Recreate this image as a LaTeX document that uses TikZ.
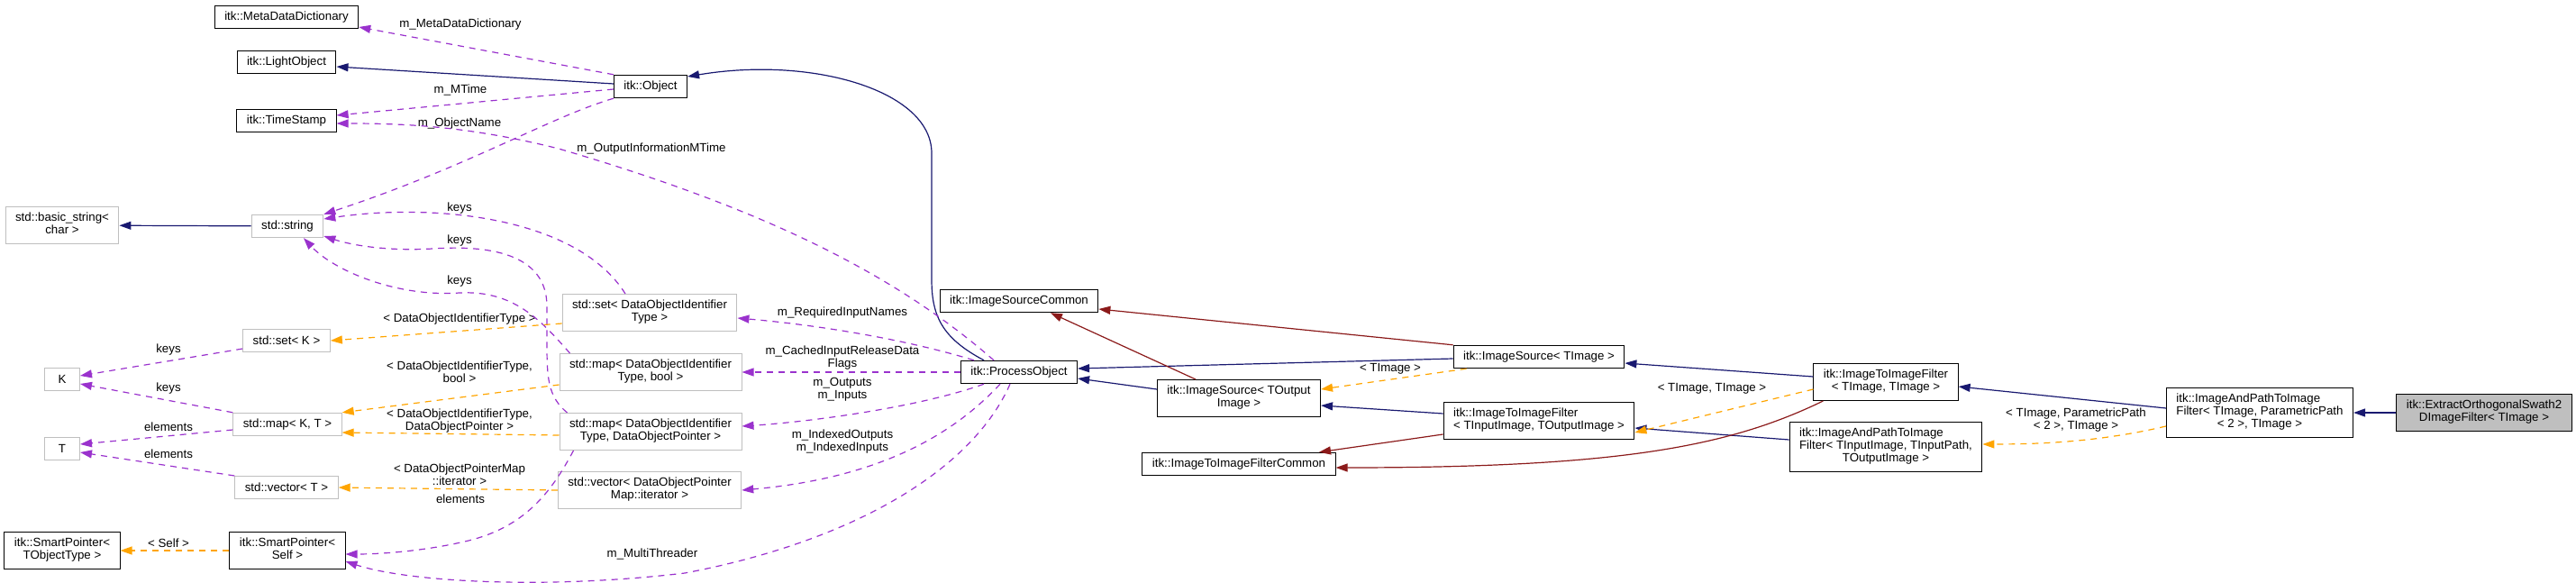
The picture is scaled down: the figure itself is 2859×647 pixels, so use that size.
\documentclass[tikz,border=0pt]{standalone}
\usepackage{fontspec}
\setmainfont{Liberation Sans}
\usepackage{tikz}
\usetikzlibrary{arrows.meta}
\usepackage{xcolor}
\definecolor{dxblue}{HTML}{191970}
\definecolor{dxred}{HTML}{8B1A1A}
\definecolor{dxpurple}{HTML}{9A32CD}
\definecolor{dxorange}{HTML}{FFA500}
\definecolor{dxgray}{HTML}{BFBFBF}
\newcommand{\dlab}[2]{\begin{tabular}{@{}l@{}}#1\\\multicolumn{1}{@{}c@{}}{#2}\end{tabular}}

\begin{document}
\begin{tikzpicture}[x=1pt, y=-1pt,
  cls/.style={draw=black, line width=1pt, font=\fontsize{13.3}{14}\selectfont, inner xsep=11pt, inner ysep=6.5pt, minimum height=25pt},
  ext/.style={cls, draw=dxgray},
  cur/.style={cls, fill=dxgray},
  lbl/.style={font=\fontsize{13.3}{14}\selectfont, align=center, inner sep=0pt},
  tip/.style={-{Triangle[length=13pt,width=9pt]}, line width=1.2pt},
  pub/.style={tip, draw=dxblue},
  priv/.style={tip, draw=dxred},
  use/.style={tip, draw=dxpurple, dash pattern=on 7pt off 6pt},
  tmpl/.style={tip, draw=dxorange, dash pattern=on 7pt off 6pt}
]
  \useasboundingbox (0,0) rectangle (2859,647);

  \node[cls] (mdd) at (318,19) {itk::MetaDataDictionary};
  \node[cls] (lobj) at (318,69) {itk::LightObject};
  \node[cls] (tstamp) at (318,134) {itk::TimeStamp};
  \node[cls] (obj) at (722,96) {itk::Object};
  \node[ext] (bstr) at (69,250) {\dlab{std::basic\_string<}{char >}};
  \node[ext] (str) at (319,251) {std::string};
  \node[ext] (setk) at (318,378) {std::set< K >};
  \node[ext, minimum width=39pt] (nk) at (69,421) {K};
  \node[ext, minimum width=39pt] (nt) at (69,498) {T};
  \node[ext] (mapkt) at (319,471) {std::map< K, T >};
  \node[ext] (vect) at (318,541) {std::vector< T >};
  \node[cls] (spt) at (69,611) {\dlab{itk::SmartPointer<}{TObjectType >}};
  \node[cls] (sps) at (319,611) {\dlab{itk::SmartPointer<}{Self >}};
  \node[ext] (setd) at (721,347) {\dlab{std::set< DataObjectIdentifier}{Type >}};
  \node[ext] (mapb) at (722,413) {\dlab{std::map< DataObjectIdentifier}{Type, bool >}};
  \node[ext] (mapp) at (722,479) {\dlab{std::map< DataObjectIdentifier}{Type, DataObjectPointer >}};
  \node[ext] (vecp) at (721,544) {\dlab{std::vector< DataObjectPointer}{Map::iterator >}};
  \node[cls] (po) at (1131,413) {itk::ProcessObject};
  \node[cls] (isc) at (1131,334) {itk::ImageSourceCommon};
  \node[cls] (isout) at (1375,442) {\dlab{itk::ImageSource< TOutput}{Image >}};
  \node[cls] (itifc) at (1375,515) {itk::ImageToImageFilterCommon};
  \node[cls] (isimg) at (1708,396) {itk::ImageSource< TImage >};
  \node[cls] (itiio) at (1708,467) {\dlab{itk::ImageToImageFilter}{< TInputImage, TOutputImage >}};
  \node[cls] (itiimg) at (2093,424) {\dlab{itk::ImageToImageFilter}{< TImage, TImage >}};
  \node[cls] (iaptpl) at (2093,496) {\dlab{itk::ImageAndPathToImage\\Filter< TInputImage, TInputPath,}{TOutputImage >}};
  \node[cls] (iapimg) at (2508,458) {\dlab{itk::ImageAndPathToImage\\Filter< TImage, ParametricPath}{< 2 >, TImage >}};
  \node[cur] (eos) at (2757,458) {\dlab{itk::ExtractOrthogonalSwath2}{DImageFilter< TImage >}};

  \node[lbl] (lmdd) at (511,27) {m\_MetaDataDictionary};
  \node[lbl] (lmt) at (511,100) {m\_MTime};
  \node[lbl] (lon) at (510,137) {m\_ObjectName};
  \node[lbl] (loim) at (723,165) {m\_OutputInformationMTime};
  \node[lbl] (lk1) at (510,231) {keys};
  \node[lbl] (lk2) at (510,267) {keys};
  \node[lbl] (lk3) at (510,312) {keys};
  \node[lbl] (lt1) at (510,354) {< DataObjectIdentifierType >};
  \node[lbl] (lt2) at (510,413) {< DataObjectIdentifierType,\\bool >};
  \node[lbl] (lt3) at (510,467) {< DataObjectIdentifierType,\\DataObjectPointer >};
  \node[lbl] (lt4) at (510,527) {< DataObjectPointerMap\\::iterator >};
  \node[lbl] (lel) at (511,554) {elements};
  \node[lbl] (lk4) at (187,388) {keys};
  \node[lbl] (lk5) at (187,431) {keys};
  \node[lbl] (le1) at (187,474) {elements};
  \node[lbl] (le2) at (187,504) {elements};
  \node[lbl] (lself) at (187,603) {< Self >};
  \node[lbl] (lmth) at (724,615) {m\_MultiThreader};
  \node[lbl] (lrin) at (935,347) {m\_RequiredInputNames};
  \node[lbl] (lcir) at (935,397) {m\_CachedInputReleaseData\\Flags};
  \node[lbl] (lio) at (935,432) {m\_Outputs\\m\_Inputs};
  \node[lbl] (lidx) at (935,490) {m\_IndexedOutputs\\m\_IndexedInputs};
  \node[lbl] (lti) at (1543,409) {< TImage >};
  \node[lbl] (ltt) at (1900,431) {< TImage, TImage >};
  \node[lbl] (ltp) at (2304,466) {< TImage, ParametricPath\\< 2 >, TImage >};

  \draw[pub] ([yshift=3pt]obj.west) -- ([yshift=-5pt]lobj.east);
  \draw[pub] ([xshift=-39pt]po.north) .. controls (1045,375) and (1034,350) .. (1034,310) -- (1034,170) .. controls (1034,100) and (900,62) .. ([yshift=11pt]obj.east);
  \draw[pub] ([yshift=-2pt]isimg.west) -- ([yshift=4pt]po.east);
  \draw[pub] ([yshift=10pt]isout.west) -- ([yshift=-7pt]po.east);
  \draw[pub] ([yshift=8pt]itiio.west) -- ([yshift=-8pt]isout.east);
  \draw[pub] ([yshift=6pt]itiimg.west) -- ([yshift=-7pt]isimg.east);
  \draw[pub] ([yshift=8pt]iaptpl.west) -- ([yshift=-8pt]itiio.east);
  \draw[pub] ([yshift=5pt]iapimg.west) -- ([yshift=-5pt]itiimg.east);
  \draw[pub] (eos) -- (iapimg);
  \draw[pub] (str) -- (bstr);

  \draw[priv] (isimg.north west) -- ([yshift=-9pt]isc.east);
  \draw[priv] ([xshift=-48pt]isout.north) -- ([xshift=35pt]isc.south);
  \draw[priv] ([yshift=-15pt]itiio.west) -- ([xshift=89pt]itifc.north);
  \draw[priv] ([xshift=11pt]itiimg.south west) .. controls (1920,495) and (1800,519) .. ([yshift=-4pt]itifc.east);

  \draw[use] (obj.north west) -- ([yshift=-11pt]mdd.east);
  \draw[use] ([yshift=-3pt]obj.west) -- ([yshift=6pt]tstamp.east);
  \draw[use] (obj.south west) .. controls (610,130) and (520,185) .. (str.north east);
  \draw[use] ([xshift=-28pt]po.north) .. controls (1000,310) and (860,235) .. (620,165) .. controls (520,140) and (450,137) .. ([yshift=-3pt]tstamp.east);
  \draw[use] ([xshift=-27pt]setd.north) .. controls (640,240) and (480,225) .. ([yshift=8pt]str.east);
  \draw[use] ([xshift=9pt]mapp.north west) .. controls (608,440) and (607,420) .. (607,380) -- (607,340) .. controls (607,280) and (540,272) .. (480,276) .. controls (430,279) and (390,272) .. ([yshift=-11pt]str.east);
  \draw[use] ([xshift=12pt]mapb.north west) .. controls (600,355) and (570,322) .. (510,325) .. controls (440,330) and (370,300) .. ([xshift=18pt]str.south);
  \draw[use] ([xshift=15pt]po.north west) .. controls (1000,375) and (900,360) .. ([yshift=-6pt]setd.east);
  \draw[use] (po) -- (mapb);
  \draw[use] ([xshift=-39pt]po.south) .. controls (1020,452) and (900,468) .. ([yshift=6pt]mapp.east);
  \draw[use] ([xshift=-21pt]po.south) .. controls (1060,480) and (980,530) .. (vecp.east);
  \draw[use] ([xshift=-10pt]po.south) .. controls (1080,520) and (950,600) .. (760,636) .. controls (600,655) and (450,645) .. ([yshift=-12pt]sps.east);
  \draw[use] ([xshift=16pt]mapp.south west) .. controls (610,550) and (580,585) .. (520,600) .. controls (470,612) and (420,615) .. ([yshift=-4pt]sps.east);
  \draw[use] ([yshift=-9pt]setk.west) -- ([yshift=4pt]nk.east);
  \draw[use] (mapkt.north west) -- ([yshift=-5pt]nk.east);
  \draw[use] ([yshift=-6pt]mapkt.west) -- ([yshift=5pt]nt.east);
  \draw[use] (vect.north west) -- ([yshift=-4pt]nt.east);

  \draw[tmpl] ([yshift=-12pt]setd.west) -- (setk.east);
  \draw[tmpl] ([yshift=-14pt]mapb.west) -- (mapkt.north east);
  \draw[tmpl] ([yshift=-4pt]mapp.west) -- ([yshift=-9pt]mapkt.east);
  \draw[tmpl] (vecp.west) -- (vect.east);
  \draw[tmpl] (sps) -- (spt);
  \draw[tmpl] ([xshift=15pt]isimg.south west) -- ([yshift=10pt]isout.east);
  \draw[tmpl] ([yshift=-8pt]itiimg.west) -- ([yshift=-13pt]itiio.east);
  \draw[tmpl] ([yshift=-15pt]iapimg.west) .. controls (2340,488) and (2280,493) .. ([yshift=3pt]iaptpl.east);
\end{tikzpicture}
\end{document}
